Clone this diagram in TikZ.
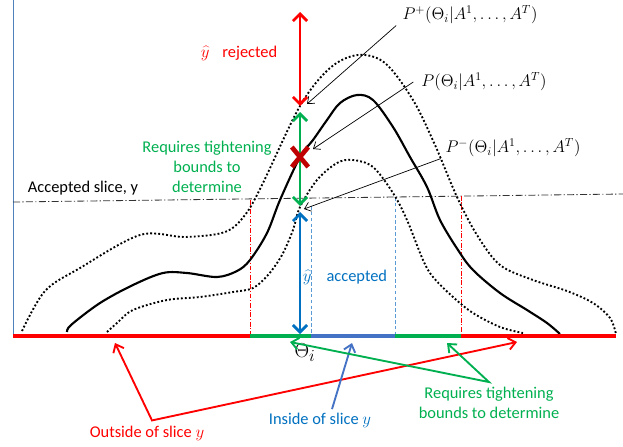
\documentclass[tikz,border=0pt]{standalone}
\usepackage{fontspec}
\setmainfont{Carlito}
\usepackage{xcolor}
\usepackage{tikz}
\usetikzlibrary{arrows.meta,positioning,shapes.misc}
\definecolor{slicered}{HTML}{FF0000}
\definecolor{slicegreen}{HTML}{00B050}
\definecolor{sliceblue}{HTML}{0070C0}
\definecolor{steelblue}{HTML}{4472C4}
\definecolor{guideblue}{HTML}{5B9BD5}
\definecolor{crossred}{HTML}{C00000}
\definecolor{axisblue}{HTML}{4F81BD}

\begin{document}
\begin{tikzpicture}[
  x=0.03cm, y=-0.03cm,
  txt/.style={inner sep=0pt, font=\fontsize{14}{17}\selectfont, align=center},
  mlbl/.style={inner sep=1pt, font=\fontsize{14.5}{16}\selectfont},
  vbar/.style={<->, line width=2.4pt, >={Straight Barb[length=6pt,width=12pt]}},
  seg/.style={line width=4pt},
  curve/.style={line width=1.8pt, line join=round},
  bound/.style={line width=1.6pt, dash pattern=on 1.6pt off 1.8pt},
  ptr/.style={->, line width=0.6pt, >={Straight Barb[length=5pt,width=8pt]}},
  callout/.style={line width=1.6pt, >={Straight Barb[length=6pt,width=10pt]}},
  guide/.style={line width=0.6pt}
]
  \useasboundingbox (0,0) rectangle (623,446);
  % axis points
  \coordinate (yax) at (13,0);
  \coordinate (ax0) at (13,336);
  \coordinate (ax1) at (250,336);
  \coordinate (ax2) at (311,336);
  \coordinate (ax3) at (395,336);
  \coordinate (ax4) at (461,336);
  \coordinate (ax5) at (616,336);
  % accepted slice
  \coordinate (sl0) at (13,202);
  \coordinate (sl1) at (623,194);
  % vertical arrow ends
  \coordinate (rtop) at (300,12);
  \coordinate (rbot) at (300,106);
  \coordinate (gtop) at (300,112);
  \coordinate (gbot) at (300,206);
  \coordinate (btop) at (300,212);
  \coordinate (bbot) at (300,334);

  \draw[axisblue, guide] (yax) -- (ax0);
  \draw[dash pattern=on 6pt off 2pt on 1pt off 2pt, line width=0.7pt, black!80] (sl0) -- (sl1);

  % slice borders
  \draw[guide, slicered, dash pattern=on 4pt off 1.5pt on 1pt off 1.5pt] (250,200) -- (ax1);
  \draw[guide, slicered, dash pattern=on 4pt off 1.5pt on 1pt off 1.5pt] (461,196) -- (ax4);
  \draw[guide, guideblue, dash pattern=on 3pt off 2pt] (311,206) -- (ax2);
  \draw[guide, guideblue, dash pattern=on 3pt off 2pt] (395,197) -- (ax3);

  % bounds and density
  \draw[bound] plot[smooth, tension=0.55] coordinates {(22,331) (45,291) (80,268) (140,235) (185,237) (225,232) (245,215) (262,185) (300,106) (330,68) (358,55) (385,63) (413,100) (435,145) (457,197) (477,235) (500,265) (533,280) (567,291) (593,303) (610,318) (616,334)};
  \draw[curve] plot[smooth, tension=0.55] coordinates {(67,332) (71,325) (100,303) (133,285) (163,273) (187,273) (217,277) (237,271) (250,260) (267,233) (280,200) (300,157) (313,140) (327,120) (340,103) (357,95) (373,100) (393,127) (410,157) (427,187) (440,220) (458,250) (473,270) (500,293) (527,310) (547,323) (560,334)};
  \draw[bound] plot[smooth, tension=0.55] coordinates {(107,332) (117,323) (133,310) (167,300) (200,297) (233,292) (253,288) (268,275) (282,255) (293,230) (300,207) (317,180) (337,163) (353,160) (373,167) (393,193) (407,220) (423,260) (433,277) (453,297) (473,313) (500,327) (523,333)};

  % axis segments
  \draw[seg, slicered] (ax0) -- (ax1);
  \draw[seg, slicegreen] (ax1) -- (ax2);
  \draw[seg, steelblue] (ax2) -- (ax3);
  \draw[seg, slicegreen] (ax3) -- (ax4);
  \draw[seg, slicered] (ax4) -- (ax5);

  % vertical arrows
  \draw[vbar, slicered] (rtop) -- (rbot);
  \draw[vbar, slicegreen] (gtop) -- (gbot);
  \draw[vbar, sliceblue] (btop) -- (bbot);
  \node[cross out, draw=crossred, line width=4pt, minimum width=10pt, minimum height=13pt] (xmark) at (300,157) {};

  % labels
  \node[txt, text=slicered] (rej) at (239,53) {$\widehat{y}$\hspace{0.39cm}rejected};
  \node[txt, text=slicegreen] (reqA) at (207,167) {Requires tightening\\bounds to\\determine};
  \node[txt] (acc) at (83,188) {Accepted slice, y};
  \node[txt, text=sliceblue] (accd) at (345,277) {$\widehat{y}$\hspace{0.45cm}accepted};
  \node[mlbl] (pplus) at (470,15) {$P^{+}(\Theta_i|A^1,\dots,A^T)$};
  \node[mlbl] (pmid) at (484,82) {$P(\Theta_i|A^1,\dots,A^T)$};
  \node[mlbl] (pminus) at (513,148) {$P^{-}(\Theta_i|A^1,\dots,A^T)$};
  \node[inner sep=0pt, font=\fontsize{19}{20}\selectfont] (theta) at (305,353) {$\Theta_i$};
  \node[txt, text=slicered] (outside) at (147,433) {Outside of slice $y$};
  \node[txt, text=sliceblue] (inside) at (320,420) {Inside of slice $y$};
  \node[txt, text=slicegreen] (reqB) at (489,403) {Requires tightening\\bounds to determine};

  % pointers to curves
  \coordinate (tplus) at (307,104);
  \coordinate (tmid) at (313,149);
  \coordinate (tminus) at (304,209);
  \draw[ptr] ([xshift=-0.15cm]pplus.south west) -- (tplus);
  \draw[ptr] ([xshift=-0.2cm]pmid.west) -- (tmid);
  \draw[ptr] ([xshift=-0.1cm]pminus.south west) -- (tminus);

  % pointers to axis
  \coordinate (oL) at (115,343);
  \coordinate (oR) at (517,342);
  \coordinate (iT) at (352,343);
  \coordinate (gL) at (290,342);
  \coordinate (gR) at (447,343);
  \draw[callout, <->, slicered] (oL) -- ([xshift=0.15cm,yshift=0.15cm]outside.north) -- (oR);
  \draw[callout, ->, steelblue] ([xshift=0.36cm,yshift=0.1cm]inside.north) -- (iT);
  \draw[callout, <->, slicegreen] (gL) -- ([yshift=0.15cm]reqB.north) -- (gR);
\end{tikzpicture}
\end{document}
